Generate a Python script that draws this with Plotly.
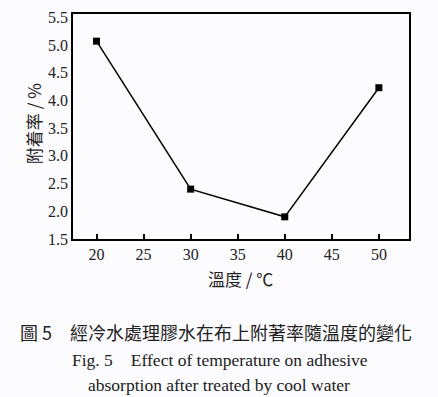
import plotly.graph_objects as go

temps = [20, 30, 40, 50]
rates = [5.07, 2.40, 1.90, 4.23]
x_ticks = [20, 25, 30, 35, 40, 45, 50]
y_ticks = [1.5, 2.0, 2.5, 3.0, 3.5, 4.0, 4.5, 5.0, 5.5]

serif = "Liberation Serif, Times New Roman, serif"
cjk = "Noto Sans CJK TC, Noto Sans CJK SC, sans-serif"

L, R, T, B = 73, 409, 14, 238.7
W, H = 438, 397
pw, ph = R - L, B - T

def px(x):
    return (x - L) / pw

def py(y):
    return (B - y) / ph

fig = go.Figure()
fig.add_trace(go.Scatter(
    x=temps, y=rates, mode="lines+markers",
    line=dict(color="black", width=1.5),
    marker=dict(symbol="square", size=7, color="black"),
    showlegend=False, hoverinfo="skip",
))

bg = "#fcfbfe"
fig.update_layout(
    width=W, height=H,
    margin=dict(l=L, r=W - R, t=T, b=H - B, autoexpand=False),
    paper_bgcolor=bg, plot_bgcolor=bg,
    xaxis=dict(
        range=[17.5, 53.2], tickvals=x_ticks, ticktext=[str(v) for v in x_ticks],
        ticks="inside", ticklen=5, tickwidth=1.5, tickcolor="black",
        showgrid=False, zeroline=False, automargin=False,
        showline=True, linecolor="black", linewidth=1.5, mirror=True,
        tickfont=dict(family=serif, size=16, color="#222"),
    ),
    yaxis=dict(
        range=[1.5, 5.56], tickvals=y_ticks, ticktext=[f"{v:.1f}" for v in y_ticks],
        ticks="", showgrid=False, zeroline=False, automargin=False,
        showline=True, linecolor="black", linewidth=1.5, mirror=True,
        tickfont=dict(family=serif, size=16, color="#222"),
    ),
)

def note(text, x, y, font, size, angle=0):
    fig.add_annotation(text=text, xref="paper", yref="paper", x=px(x), y=py(y),
                       showarrow=False, xanchor="center", yanchor="middle",
                       textangle=angle, font=dict(family=font, size=size, color="#222"))

note("溫度 / ℃", 240, 278, cjk, 17)
note("附着率 / %", 33, 124, cjk, 17, angle=-90)
note("圖 5　經冷水處理膠水在布上附著率隨溫度的變化", 216, 331.7, cjk, 18)
note("Fig. 5　Effect of temperature on adhesive", 220, 360, serif, 17.5)
note("absorption after treated by cool water", 219, 385, serif, 17.5)

fig.write_html("out.html", config={"displayModeBar": False},
               post_script="document.body.style.margin='0';document.body.style.overflow='hidden';")
